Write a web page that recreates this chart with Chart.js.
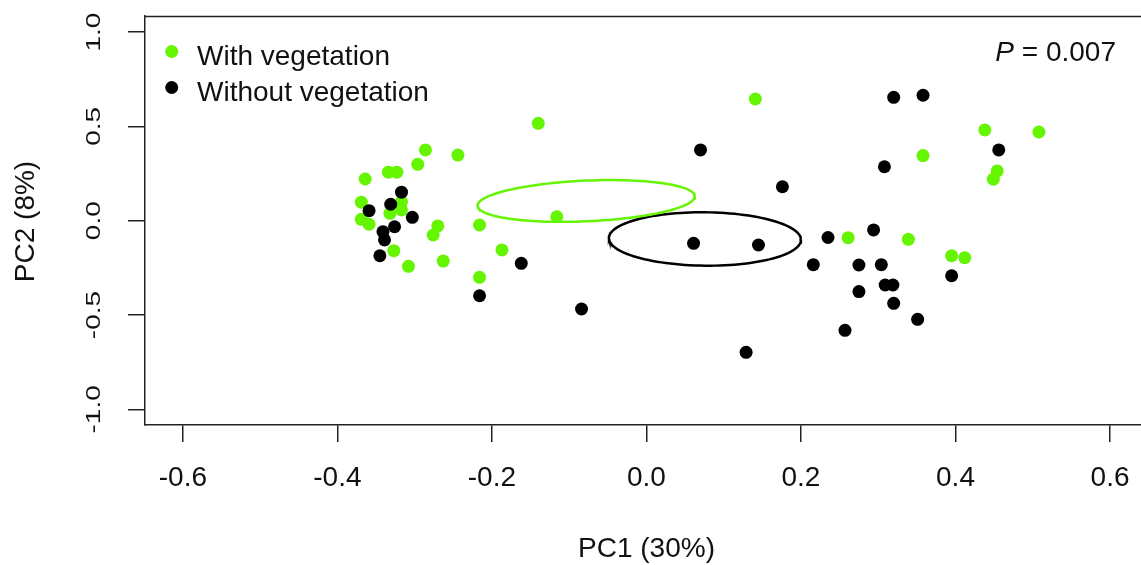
<!DOCTYPE html>
<html>
<head>
<meta charset="utf-8">
<script src="https://cdn.jsdelivr.net/npm/chart.js@4.4.1/dist/chart.umd.min.js"></script>
<style>
html,body{margin:0;padding:0;overflow:hidden;background:#fff;}
#pca{display:block;}
</style>
</head>
<body>
<canvas id="pca" width="1141" height="565"></canvas>
<script>
var seriesNames=["With vegetation","Without vegetation"];
var seriesColors=["#66f500","#000000"];

var withVegX=[-0.140,0.141,-0.286,-0.244,-0.296,-0.334,-0.323,-0.364,-0.369,-0.317,-0.317,-0.332,-0.369,-0.359,-0.270,-0.276,-0.216,-0.116,-0.327,-0.187,-0.263,-0.308,-0.216,0.438,0.508,0.358,0.454,0.449,0.261,0.339,0.395,0.412];
var withVegY=[0.516,0.645,0.375,0.348,0.299,0.257,0.257,0.221,0.098,0.101,0.057,0.039,0.007,-0.019,-0.028,-0.076,-0.023,0.021,-0.159,-0.155,-0.214,-0.242,-0.300,0.481,0.470,0.345,0.264,0.220,-0.090,-0.099,-0.186,-0.196];

var withoutVegX=[-0.317,-0.331,-0.359,-0.303,-0.326,-0.341,-0.339,-0.345,-0.162,-0.216,-0.084,0.070,0.176,0.061,0.145,0.235,0.216,0.129,0.257,0.320,0.358,0.456,0.308,0.294,0.275,0.304,0.309,0.319,0.275,0.320,0.395,0.351];
var withoutVegY=[0.151,0.087,0.053,0.018,-0.032,-0.058,-0.102,-0.186,-0.226,-0.398,-0.468,0.375,0.180,-0.120,-0.129,-0.089,-0.233,-0.698,-0.581,0.654,0.665,0.375,0.286,-0.049,-0.235,-0.233,-0.341,-0.341,-0.376,-0.438,-0.292,-0.523];

// ellipse: centre x, centre y, half width, tilt, half height
var withVegEllipse=[-0.078,0.1045,0.1406,0.0247,0.108];
var withoutVegEllipse=[0.0757,-0.097,0.1243,-0.0045,0.1415];

var xTicks=[-0.6,-0.4,-0.2,0.0,0.2,0.4,0.6];
var yTicks=[-1.0,-0.5,0.0,0.5,1.0];
var xTitle="PC1 (30%)";
var yTitle="PC2 (8%)";
var pValue="0.007";

var FONT='"Liberation Sans", Arial, sans-serif';

function pts(xs,ys){
  var out=[];
  for(var i=0;i<xs.length;i++) out.push({x:xs[i],y:ys[i]});
  return out;
}
function ellipse(e){
  var out=[];
  for(var i=0;i<=120;i++){
    var t=i/120*Math.PI*2;
    out.push({x:e[0]+e[2]*Math.cos(t),y:e[1]+e[3]*Math.cos(t)+e[4]*Math.sin(t)});
  }
  return out;
}

var extras={
  id:"extras",
  afterLayout:function(chart){
    // plot box runs to the right edge of the picture
    var xs=chart.scales.x;
    chart.chartArea.right=chart.width;
    chart.chartArea.width=chart.width-chart.chartArea.left;
    xs.right=chart.width;
    xs.width=xs.right-xs.left;
    xs.configure();
  },
  afterDraw:function(chart){
    var ctx=chart.ctx, a=chart.chartArea, ys=chart.scales.y;
    ctx.save();
    // top of the box
    ctx.strokeStyle="#222";
    ctx.lineWidth=1.5;
    ctx.beginPath();
    ctx.moveTo(a.left,a.top+0.5);
    ctx.lineTo(a.right,a.top+0.5);
    ctx.stroke();

    ctx.fillStyle="#111";
    // y tick labels, turned
    ctx.font="28px "+FONT;
    ctx.textAlign="center";
    ctx.textBaseline="alphabetic";
    yTicks.forEach(function(v){
      ctx.save();
      ctx.translate(100,ys.getPixelForValue(v));
      ctx.rotate(-Math.PI/2);
      ctx.scale(1,0.75);
      ctx.fillText(v.toFixed(1),0,0);
      ctx.restore();
    });
    // axis titles (R box runs a little past the right edge)
    ctx.save();
    ctx.translate(34,(a.top+a.bottom)/2+1);
    ctx.rotate(-Math.PI/2);
    ctx.fillText(yTitle,0,0);
    ctx.restore();
    ctx.fillText(xTitle,(a.left+a.right+7)/2,557);

    // legend
    ctx.textAlign="left";
    var rows=[65,101];
    for(var i=0;i<2;i++){
      ctx.fillStyle=seriesColors[i];
      ctx.beginPath();
      ctx.arc(171.7,rows[i]-13.5,6.5,0,Math.PI*2);
      ctx.fill();
      ctx.fillStyle="#111";
      ctx.fillText(seriesNames[i],197,rows[i]);
    }

    // P value
    var rest=" = "+pValue;
    var wRest=ctx.measureText(rest).width;
    ctx.textAlign="right";
    ctx.fillText(rest,1116,60.7);
    ctx.font="italic 28px "+FONT;
    ctx.fillText("P",1116-wRest,60.7);
    ctx.restore();
  }
};

new Chart(document.getElementById("pca"),{
  type:"scatter",
  data:{
    datasets:[
      {label:seriesNames[1],data:pts(withoutVegX,withoutVegY),backgroundColor:seriesColors[1],borderWidth:0,pointRadius:6.5},
      {label:seriesNames[0],data:pts(withVegX,withVegY),backgroundColor:seriesColors[0],borderWidth:0,pointRadius:6.5},
      {data:ellipse(withVegEllipse),showLine:true,borderColor:seriesColors[0],borderWidth:2.5,pointRadius:0,fill:false,tension:0},
      {data:ellipse(withoutVegEllipse),showLine:true,borderColor:seriesColors[1],borderWidth:2.5,pointRadius:0,fill:false,tension:0}
    ]
  },
  options:{
    responsive:false,
    animation:false,
    layout:{padding:{left:0,right:0,top:16,bottom:0}},
    plugins:{legend:{display:false},tooltip:{enabled:false}},
    scales:{
      x:{
        type:"linear",
        min:-0.649,max:0.6401,
        afterBuildTicks:function(s){s.ticks=xTicks.map(function(v){return {value:v};});},
        afterFit:function(s){s.height=140;s.paddingLeft=0;s.paddingRight=0;},
        ticks:{
          padding:19,color:"#111",font:{family:FONT,size:28},
          callback:function(v){return v.toFixed(1);}
        },
        grid:{drawOnChartArea:false,drawTicks:true,tickLength:17,color:"#222",lineWidth:1.5},
        border:{display:true,color:"#222",width:1.5},
        title:{display:false}
      },
      y:{
        type:"linear",
        min:-1.083,max:1.085,
        afterBuildTicks:function(s){s.ticks=yTicks.map(function(v){return {value:v};});},
        afterFit:function(s){s.width=145;s.paddingTop=0;s.paddingBottom=0;},
        ticks:{display:false},
        grid:{drawOnChartArea:false,drawTicks:true,tickLength:17,color:"#222",lineWidth:1.5},
        border:{display:true,color:"#222",width:1.5}
      }
    }
  },
  plugins:[extras]
});
</script>
</body>
</html>
